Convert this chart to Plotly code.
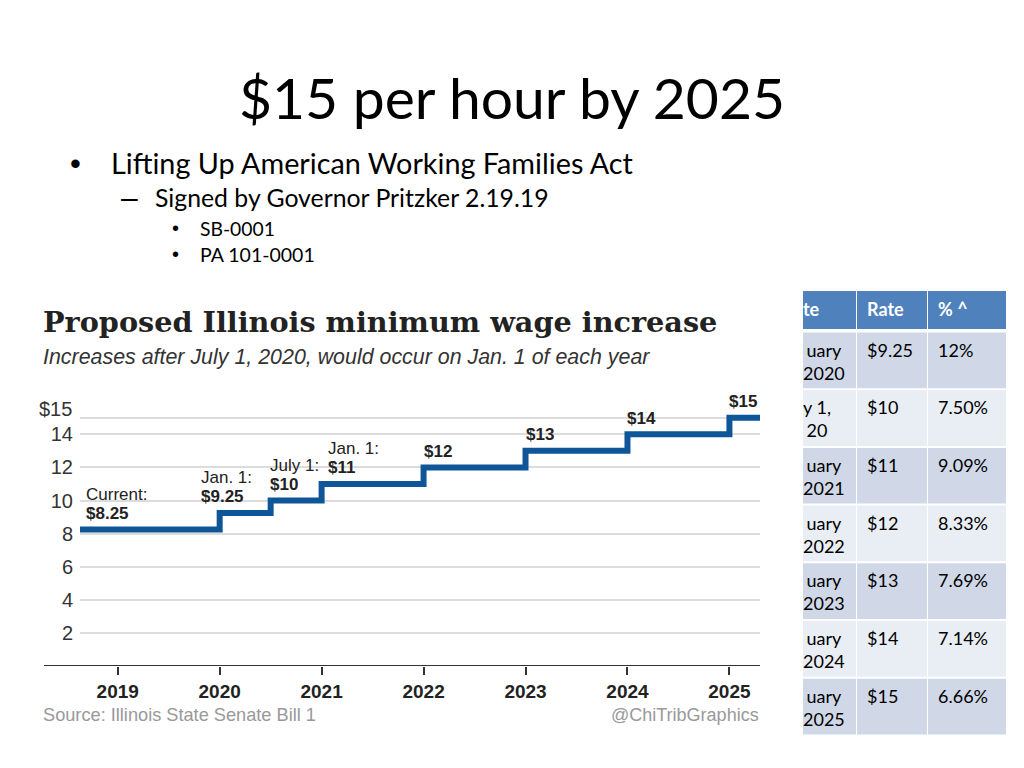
import plotly.graph_objects as go

W, H = 1024, 768


def px(x):
    return x / W


def py(y):
    return 1 - y / H


# ---------------- data ----------------
step_years = [2018.63, 2020, 2020.5, 2021, 2022, 2023, 2024, 2025, 2025.3]
wages = [8.25, 9.25, 10, 11, 12, 13, 14, 15, 15]
step_notes = ["Current:", "Jan. 1:", "July 1:", "Jan. 1:", "", "", "", ""]
step_labels = ["$8.25", "$9.25", "$10", "$11", "$12", "$13", "$14", "$15"]

x_ticks = [2019, 2020, 2021, 2022, 2023, 2024, 2025]
y_ticks = [2, 4, 6, 8, 10, 12, 14, 15]
y_tick_text = ["2", "4", "6", "8", "10", "12", "14", "$15"]

table_header = ["te", "Rate", "% ^"]
table_dates = ["uary<br>2020", "y 1,<br>20", "uary<br>2021", "uary<br>2022",
               "uary<br>2023", "uary<br>2024", "uary<br>2025"]
table_rates = ["$9.25", "$10", "$11", "$12", "$13", "$14", "$15"]
table_pct = ["12%", "7.50%", "9.09%", "8.33%", "7.69%", "7.14%", "6.66%"]

slide_title = "$15 per hour by 2025"
bullets = [
    ("•", "Lifting Up American Working Families Act", 75, 109, 163, 28.8, 31),
    ("–", "Signed by Governor Pritzker 2.19.19", 129, 153, 197, 24.8, 30),
    ("•", "SB-0001", 175, 198, 228, 19.3, 20),
    ("•", "PA 101-0001", 175, 198, 254, 19.5, 20),
]

chart_title = "Proposed Illinois minimum wage increase"
chart_subtitle = "Increases after July 1, 2020, would occur on Jan. 1 of each year"
source_text = "Source: Illinois State Senate Bill 1"
credit_text = "@ChiTribGraphics"

# ---------------- figure ----------------
LINE_BLUE = "#0f5699"
SANS = "Liberation Sans, Arial, sans-serif"
SLIDE_FONT = "Lato, Calibri, sans-serif"

fig = go.Figure()
fig.add_trace(go.Scatter(
    x=step_years, y=wages, mode="lines",
    line=dict(color=LINE_BLUE, width=6, shape="hv"),
    hoverinfo="skip", showlegend=False,
))

annotations = []
xshifts = [4, -21, -3, 4, -2, -2, -2, -2]
for i, lab in enumerate(step_labels):
    annotations.append(dict(
        x=step_years[i], y=wages[i], xref="x", yref="y",
        text="<b>" + lab + "</b>", showarrow=False,
        xanchor="left", yanchor="middle", xshift=xshifts[i], yshift=16,
        font=dict(family=SANS, size=17, color="#222"),
    ))
    if step_notes[i]:
        annotations.append(dict(
            x=step_years[i], y=wages[i], xref="x", yref="y",
            text=step_notes[i], showarrow=False,
            xanchor="left", yanchor="middle", xshift=xshifts[i], yshift=35,
            font=dict(family=SANS, size=17, color="#222"),
        ))

# the top y tick label sits just above its gridline (keeps it clear of "14")
annotations.append(dict(
    x=px(74), y=y_ticks[-1], xref="paper", yref="y",
    text=y_tick_text[-1], showarrow=False,
    xanchor="right", yanchor="middle", yshift=9,
    font=dict(family=SANS, size=20, color="#333"),
))


def ptext(text, x, y, size, family, color="#000", xanchor="left", yanchor="middle"):
    annotations.append(dict(
        x=px(x), y=py(y), xref="paper", yref="paper", text=text,
        showarrow=False, xanchor=xanchor, yanchor=yanchor,
        font=dict(family=family, size=size, color=color),
    ))


# slide text
ptext(slide_title, 512, 97, 57, SLIDE_FONT, xanchor="center")
for sym, txt, sx, tx, ty, fs, ss in bullets:
    ptext(sym, sx, ty, ss, "Liberation Sans, Arial, sans-serif", xanchor="center")
    ptext(txt, tx, ty, fs, SLIDE_FONT)

# chart text
ptext("<b>" + chart_title + "</b>", 41, 322, 28.7, "DejaVu Serif, Georgia, serif", color="#222")
ptext("<i>" + chart_subtitle + "</i>", 41, 357, 21.4, SANS, color="#333")
ptext(source_text, 41, 715, 18.2, SANS, color="#999")
ptext(credit_text, 761, 715, 18, SANS, color="#999", xanchor="right")

# table
shapes = []
col_bounds = [(803, 856), (857, 927), (928, 1006)]
HEADER_FILL = "#4F81BD"
ROW_FILLS = ["#D0D8E8", "#E9EDF4"]
for j, (c0, c1) in enumerate(col_bounds):
    shapes.append(dict(type="rect", xref="paper", yref="paper",
                       x0=px(c0), x1=px(c1), y0=py(329), y1=py(291),
                       fillcolor=HEADER_FILL, line=dict(width=0), layer="below"))
    tx = 801 if j == 0 else c0 + 8
    ptext("<b>" + table_header[j] + "</b>", tx, 309, 18, SLIDE_FONT, color="#fff")

cols = [table_dates, table_rates, table_pct]
for i in range(len(table_rates)):
    top = 332.5 + i * 57.7
    bot = top + 55.7
    for j, (c0, c1) in enumerate(col_bounds):
        shapes.append(dict(type="rect", xref="paper", yref="paper",
                           x0=px(c0), x1=px(c1), y0=py(bot), y1=py(top),
                           fillcolor=ROW_FILLS[i % 2], line=dict(width=0), layer="below"))
        tx = 801 if j == 0 else c0 + 8
        ptext(cols[j][i], tx, top + 4, 18, SLIDE_FONT, yanchor="top")

# x axis line extending to the left of the plot area
shapes.append(dict(type="line", xref="paper", yref="y",
                   x0=px(44), x1=px(760), y0=0, y1=0,
                   line=dict(color="#333", width=2), layer="above"))

fig.update_layout(
    width=W, height=H,
    margin=dict(l=0, r=0, t=0, b=0),
    paper_bgcolor="white", plot_bgcolor="white",
    showlegend=False,
    annotations=annotations,
    shapes=shapes,
    xaxis=dict(
        domain=[px(80), px(760)], range=[2018.63, 2025.30],
        tickvals=x_ticks, ticktext=["<b>%d</b>" % t for t in x_ticks],
        ticks="outside", ticklen=8, tickwidth=2, tickcolor="#333",
        showgrid=False, zeroline=False, showline=False,
        tickfont=dict(family=SANS, size=19, color="#222"),
        fixedrange=True,
    ),
    yaxis=dict(
        domain=[py(666), py(666 - 17 * 16.55)], range=[0, 17],
        tickvals=y_ticks, ticktext=y_tick_text[:-1] + [""],
        showgrid=True, gridcolor="#dcdcdc", gridwidth=1.5,
        zeroline=False, showline=False, ticks="",
        ticklabelstandoff=6,
        tickfont=dict(family=SANS, size=20, color="#333"),
        fixedrange=True,
    ),
)

fig.write_html("out.html", config={"displayModeBar": False},
               post_script=["document.body.style.margin='0';document.body.style.overflow='hidden';"])
